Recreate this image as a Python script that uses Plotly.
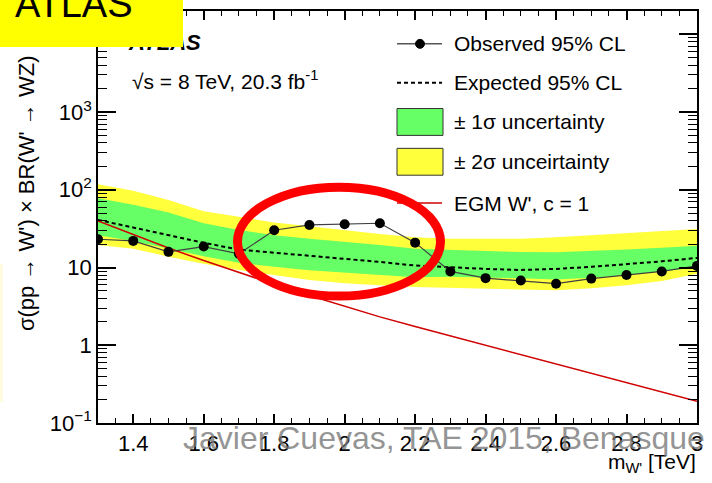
import plotly.graph_objects as go

# ---------------- data ----------------
mass = [1.3, 1.4, 1.5, 1.6, 1.7, 1.8, 1.9, 2.0, 2.1, 2.2, 2.3, 2.4, 2.5, 2.6, 2.7, 2.8, 2.9, 3.0]
observed = [23.1, 22.0, 15.9, 18.6, 15.0, 30.2, 35.3, 36.0, 37.1, 20.9, 8.9, 7.3, 6.8, 6.2, 7.2, 8.0, 8.9, 10.5]
expected = [41, 32.5, 25.8, 20.8, 17.0, 15.6, 14.3, 13.0, 11.8, 10.6, 10.0, 9.6, 9.3, 9.6, 10.2, 11.0, 12.0, 13.3]
sig1_up = [78, 64, 51, 37, 30.5, 26, 23.5, 21.5, 19.5, 17.5, 16.8, 16.3, 15.8, 15.7, 16.3, 17.0, 18.0, 19.0]
sig1_dn = [26, 22, 17.5, 14, 11.5, 10.2, 9.2, 8.6, 8.0, 7.5, 7.6, 7.4, 7.3, 7.0, 7.4, 8.0, 8.9, 10.0]
sig2_up = [118, 97, 74, 53, 45, 38, 34, 30, 27, 24.5, 23.5, 23.4, 23.4, 24.5, 26, 27.5, 29.5, 31.3]
sig2_dn = [19.5, 17.5, 13.8, 11.2, 9.3, 8.0, 6.9, 6.3, 5.9, 5.6, 5.4, 5.3, 5.2, 5.1, 5.4, 5.9, 6.7, 8.3]
egm_theory = [39.8, 26.3, 17.8, 12.3, 8.6, 6.1, 4.36, 3.16, 2.32, 1.74, 1.32, 1.0, 0.76, 0.575, 0.436, 0.331, 0.251, 0.19]

x_tickvals = [1.4, 1.6, 1.8, 2.0, 2.2, 2.4, 2.6, 2.8, 3.0]
x_ticktext = ["1.4", "1.6", "1.8", "2", "2.2", "2.4", "2.6", "2.8", "3"]
y_tickvals = [0.1, 1, 10, 100, 1000, 10000]
y_ticktext = ["10<sup>\u22121</sup>", "1", "10", "10<sup>2</sup>", "10<sup>3</sup>", "10<sup>4</sup>"]

legend_labels = ["Observed 95% CL", "Expected 95% CL", "\u00b1 1\u03c3 uncertainty",
                 "\u00b1 2\u03c3 unceirtainty", "EGM W', c = 1"]

# ---------------- styling ----------------
W, H = 712, 483
ML, MR, MT, MB = 98, 15, 9, 60
PW, PH = W - ML - MR, H - MT - MB
FONT = "Liberation Sans, Arial, Helvetica, sans-serif"
GREEN = "#66ff66"
YELLOW = "#ffff3c"
RED_TH = "#d00000"


def px(x):
    return (x - ML) / PW


def py(y):
    return (H - MB - y) / PH


fig = go.Figure()

# 2 sigma band
fig.add_trace(go.Scatter(x=mass + mass[::-1], y=sig2_up + sig2_dn[::-1], fill="toself",
                         fillcolor=YELLOW, line=dict(width=0), mode="lines",
                         name=legend_labels[3], showlegend=False, hoverinfo="skip"))
# 1 sigma band
fig.add_trace(go.Scatter(x=mass + mass[::-1], y=sig1_up + sig1_dn[::-1], fill="toself",
                         fillcolor=GREEN, line=dict(width=0), mode="lines",
                         name=legend_labels[2], showlegend=False, hoverinfo="skip"))
# expected
fig.add_trace(go.Scatter(x=mass, y=expected, mode="lines", name=legend_labels[1],
                         line=dict(color="black", width=2, dash="4px,3px"), showlegend=False))
# theory
fig.add_trace(go.Scatter(x=mass, y=egm_theory, mode="lines", name=legend_labels[4],
                         line=dict(color=RED_TH, width=1.5), showlegend=False))
# observed
fig.add_trace(go.Scatter(x=mass, y=observed, mode="lines+markers", name=legend_labels[0],
                         line=dict(color="#404040", width=1.2),
                         marker=dict(color="black", size=10), showlegend=False))

shapes = []
# light yellow strip at far left
shapes.append(dict(type="rect", xref="paper", yref="paper", x0=px(0), x1=px(3), y0=py(402), y1=py(263),
                   fillcolor="#fffbe0", line=dict(width=0), layer="above"))
# manual legend
rows = [42, 81, 120.5, 160.5, 202]
lx0, lx1 = 397, 442
shapes.append(dict(type="line", xref="paper", yref="paper", x0=px(lx0), x1=px(lx1), y0=py(rows[0]), y1=py(rows[0]),
                   line=dict(color="#555555", width=1.5), layer="above"))
shapes.append(dict(type="circle", xref="paper", yref="paper", x0=px(415.5), x1=px(424.5),
                   y0=py(rows[0] + 4.5), y1=py(rows[0] - 4.5), fillcolor="black", line=dict(color="black", width=1), layer="above"))
shapes.append(dict(type="line", xref="paper", yref="paper", x0=px(lx0), x1=px(lx1), y0=py(rows[1]), y1=py(rows[1]),
                   line=dict(color="black", width=2, dash="4px,3px"), layer="above"))
shapes.append(dict(type="rect", xref="paper", yref="paper", x0=px(397), x1=px(443), y0=py(134), y1=py(107),
                   fillcolor=GREEN, line=dict(color="#333333", width=1), layer="above"))
shapes.append(dict(type="rect", xref="paper", yref="paper", x0=px(397), x1=px(443), y0=py(174), y1=py(147),
                   fillcolor=YELLOW, line=dict(color="#333333", width=1), layer="above"))
shapes.append(dict(type="line", xref="paper", yref="paper", x0=px(lx0), x1=px(lx1), y0=py(rows[4]), y1=py(rows[4]),
                   line=dict(color=RED_TH, width=1.5), layer="above"))
# red highlight ellipse
shapes.append(dict(type="circle", xref="paper", yref="paper", x0=px(237.5), x1=px(440.5),
                   y0=py(295.5), y1=py(186), line=dict(color="#ff0000", width=9), layer="above"))

annotations = []
# y axis title
annotations.append(dict(text="\u03c3(pp \u2192 W') \u00d7 BR(W' \u2192 WZ)", xref="paper", yref="paper",
                        x=px(26), y=py(192), textangle=-90, showarrow=False, xanchor="center", yanchor="middle",
                        font=dict(size=22, color="black", family=FONT)))
# inner ATLAS label
annotations.append(dict(text="<b><i>ATLAS</i></b>", xref="paper", yref="paper", x=px(126), y=py(40.5),
                        showarrow=False, xanchor="left", yanchor="middle",
                        font=dict(size=22, color="black", family=FONT)))
annotations.append(dict(text="\u221as = 8 TeV, 20.3 fb<sup>-1</sup>", xref="paper", yref="paper", x=px(130), y=py(78),
                        showarrow=False, xanchor="left", yanchor="middle",
                        font=dict(size=21, color="black", family=FONT)))
for lab, r in zip(legend_labels, rows):
    annotations.append(dict(text=lab, xref="paper", yref="paper", x=px(452), y=py(r), showarrow=False,
                            xanchor="left", yanchor="middle", font=dict(size=21, color="black", family=FONT)))
# x axis title
annotations.append(dict(text="m<sub>W'</sub> [TeV]", xref="paper", yref="paper", x=px(698), y=py(463),
                        showarrow=False, xanchor="right", yanchor="middle",
                        font=dict(size=21, color="black", family=FONT)))
# watermark
annotations.append(dict(text="Javier Cuevas, TAE 2015, Benasque", xref="paper", yref="paper", x=px(181), y=py(438),
                        showarrow=False, xanchor="left", yanchor="middle",
                        font=dict(size=32, color="rgba(120,120,120,0.8)", family=FONT)))
# yellow title box
annotations.append(dict(text=" ", xref="paper", yref="paper", x=px(0), y=py(45), showarrow=False,
                        xanchor="left", yanchor="bottom", width=183, height=70, bgcolor="#ffff00",
                        borderpad=0, borderwidth=0, font=dict(size=10, family=FONT)))
annotations.append(dict(text="ATLAS", xref="paper", yref="paper", x=px(13), y=py(2), showarrow=False,
                        xanchor="left", yanchor="middle", font=dict(size=38, color="black", family=FONT)))

fig.update_layout(
    width=W, height=H,
    margin=dict(l=ML, r=MR, t=MT, b=MB, pad=0),
    paper_bgcolor="white", plot_bgcolor="white",
    font=dict(family=FONT, size=22, color="black"),
    showlegend=False,
    shapes=shapes, annotations=annotations,
    xaxis=dict(range=[1.3, 3.0], tickmode="array", tickvals=x_tickvals, ticktext=x_ticktext,
               ticks="inside", ticklen=9, tickwidth=1.5, tickcolor="black",
               showline=True, linecolor="black", linewidth=1.5, mirror="ticks",
               showgrid=False, zeroline=False, tickfont=dict(size=22),
               minor=dict(ticks="inside", dtick=0.05, tick0=1.3, ticklen=5, tickwidth=1, tickcolor="black", showgrid=False)),
    yaxis=dict(type="log", range=[-1, 4.3], tickmode="array", tickvals=y_tickvals, ticktext=y_ticktext,
               ticks="inside", ticklen=18, tickwidth=1.5, tickcolor="black",
               showline=True, linecolor="black", linewidth=1.5, mirror="ticks",
               showgrid=False, zeroline=False, tickfont=dict(size=22),
               minor=dict(ticks="inside", dtick="D1", ticklen=9, tickwidth=1, tickcolor="black", showgrid=False)),
)

fig.write_html("out.html")
